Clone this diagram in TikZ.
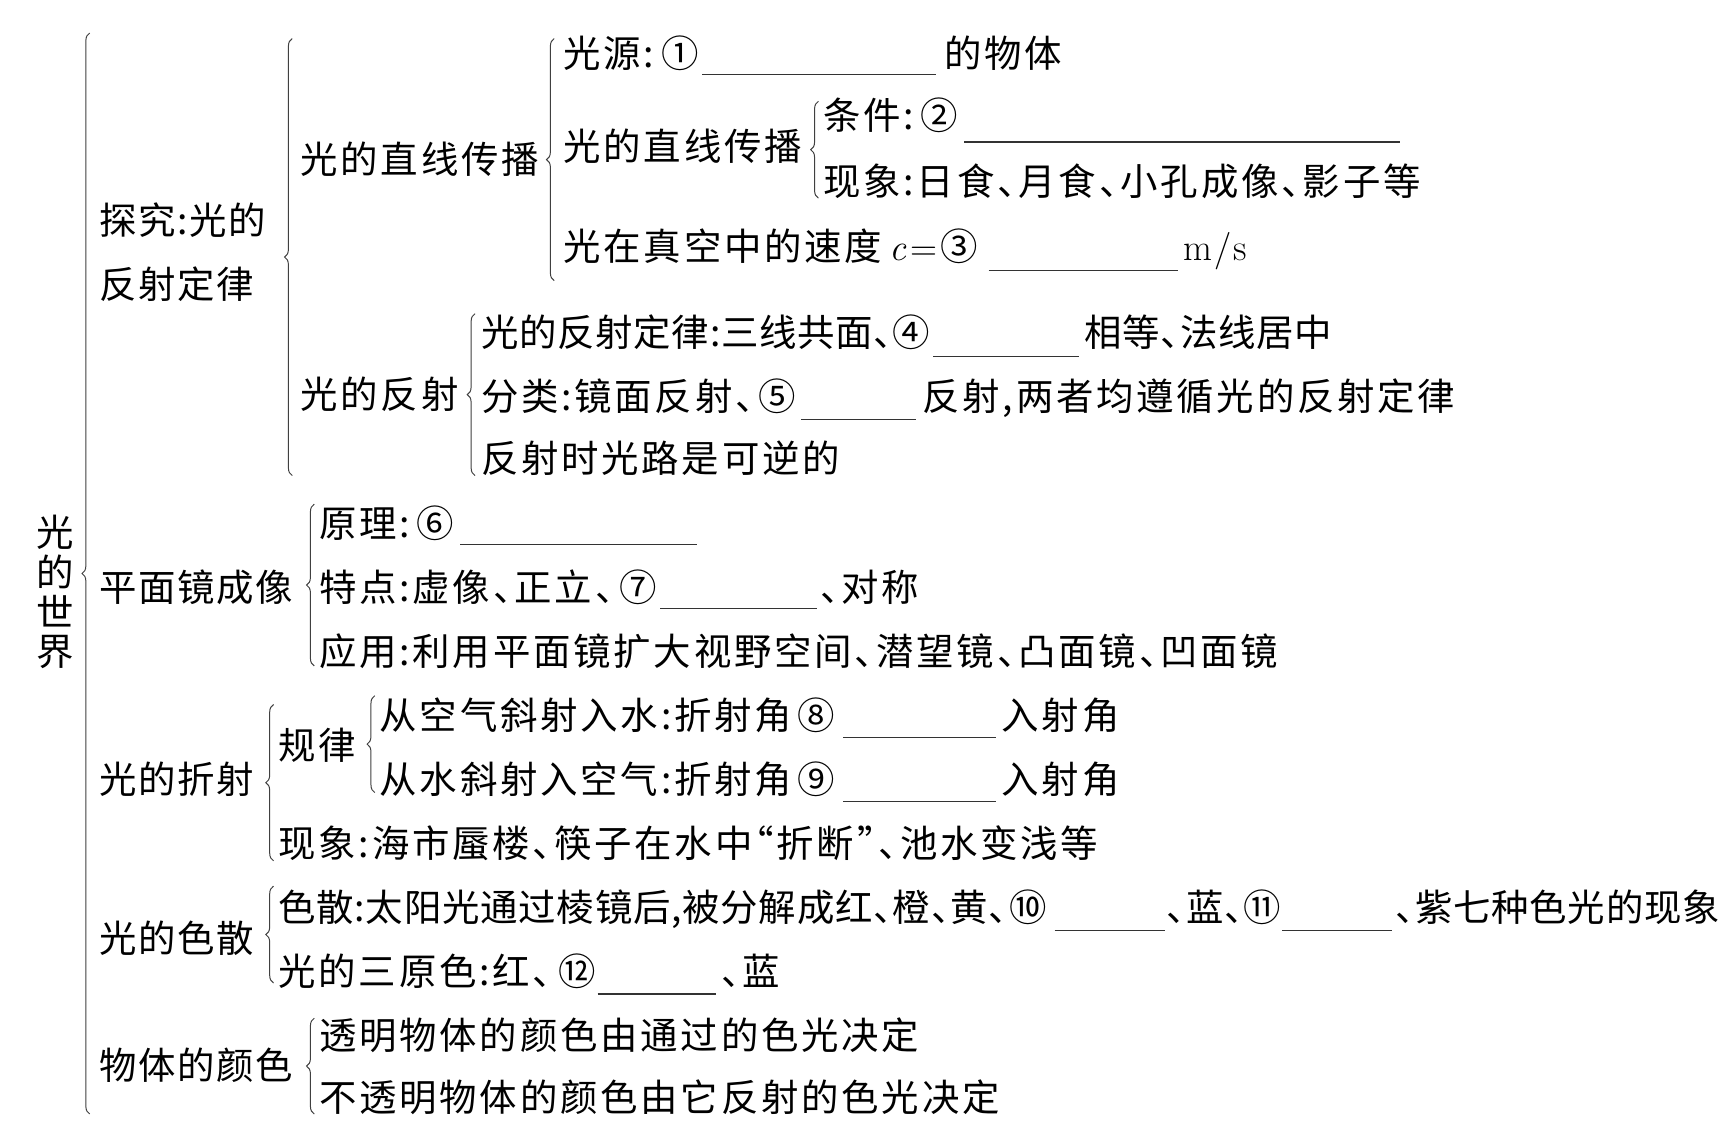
\documentclass[tikz,border=0pt]{standalone}
\usepackage{fontspec}
\newfontfamily\cjkz[CharacterWidth=AlternateHalf]{Noto Sans CJK SC}
\newfontfamily\cjk[CharacterWidth=AlternateHalf, LetterSpace=7.4]{Noto Sans CJK SC}
\newfontfamily\cjkt[CharacterWidth=AlternateHalf, LetterSpace=2]{Noto Sans CJK SC}
\newfontfamily\cjkm[CharacterWidth=AlternateHalf, LetterSpace=4.4]{Noto Sans CJK SC}
\usetikzlibrary{decorations.pathreplacing}
\tikzset{
  t/.style={anchor=west, inner sep=0pt, outer sep=0pt, font=\cjk\fontsize{34}{34}\selectfont, text height=30pt, text depth=4pt, text=black},
  tight/.style={t, font=\cjkt\fontsize{34}{34}\selectfont},
  mid/.style={t, font=\cjkm\fontsize{34}{34}\selectfont},
  num/.style={t, font=\cjkz\fontsize{34}{34}\selectfont},
  br/.style={decorate, decoration={brace, amplitude=7pt}, line width=0.9pt, draw=black!75},
  blank/.style={line width=1.1pt, draw=black!80},
}
\begin{document}
\begin{tikzpicture}[x=1pt,y=-1pt]
\useasboundingbox (0,0) rectangle (1568,1021);
\fill[white] (0,0) rectangle (1568,1021);

% root
\node[inner sep=0pt, align=center, font=\cjkz\fontsize{34}{36}\selectfont] (root) at (50,538) {光\\的\\世\\界};

% level 1
\node[mid] (n1a) at (90,200) {探究:光的};
\node[mid] (n1b) at (90,258) {反射定律};
\node[mid] (n2) at (90,533) {平面镜成像};
\node[mid] (n3) at (90,708) {光的折射};
\node[mid] (n4) at (90,852) {光的色散};
\node[mid] (n5) at (90,968) {物体的颜色};

% level 2 under 探究
\node[t] (s1) at (273,145) {光的直线传播};
\node[t] (s2) at (273,358) {光的反射};

% row A
\node[t] (a1) at (512,48) {光源:};
\node[num] (a2) at ([xshift=6pt]a1.east) {①};
\draw[blank] (638,68) -- (850,68);
\node[t] (a3) at (858,48) {的物体};
% row B
\node[t] (b) at (512,133) {光的直线传播};
\node[t] (b1) at (748,105) {条件:};
\node[num] (b1n) at ([xshift=6pt]b1.east) {②};
\draw[blank] (876,129) -- (1272,129);
\node[t] (b2) at (748,165) {现象:日食、月食、小孔成像、影子等};
% row C
\node[t] (c1) at (512,224) {光在真空中的速度};
\node[t] (c2) at ([xshift=6pt]c1.east) {\rmfamily\itshape c};
\node[t] (c3) at ([xshift=4pt]c2.east) {\rmfamily =};
\node[num] (c4) at ([xshift=3pt]c3.east) {③};
\draw[blank] (898,246) -- (1070,246);
\node[t] (c5) at (1075,224) {\rmfamily m\kern2pt/\kern2pt s};
% row D
\node[tight] (d1) at (437,302) {光的反射定律:三线共面、};
\node[num] (d2) at ([xshift=0pt]d1.east) {④};
\draw[blank] (848,324) -- (980,324);
\node[tight] (d3) at (985,302) {相等、法线居中};
% row E
\node[t] (e1) at (437,360) {分类:镜面反射、};
\node[num] (e2) at ([xshift=4pt]e1.east) {⑤};
\draw[blank] (728,381) -- (832,381);
\node[t] (e3) at (838,360) {反射,两者均遵循光的反射定律};
% row F
\node[t] (f1) at (437,416) {反射时光路是可逆的};
% row G
\node[t] (g1) at (290,475) {原理:};
\node[num] (g2) at ([xshift=6pt]g1.east) {⑥};
\draw[blank] (418,495) -- (633,495);
% row H
\node[t] (h1) at (290,533) {特点:虚像、正立、};
\node[num] (h2) at ([xshift=5pt]h1.east) {⑦};
\draw[blank] (600,553) -- (742,553);
\node[t] (h3) at (745,533) {、对称};
% row I
\node[t] (i1) at (290,592) {应用:利用平面镜扩大视野空间、潜望镜、凸面镜、凹面镜};
% row J
\node[t] (j) at (253,677) {规律};
\node[t] (j1) at (345,650) {从空气斜射入水:折射角};
\node[num] (j1n) at ([xshift=5pt]j1.east) {⑧};
\draw[blank] (766,670) -- (905,670);
\node[t] (j1b) at (910,650) {入射角};
\node[t] (j2) at (345,708) {从水斜射入空气:折射角};
\node[num] (j2n) at ([xshift=5pt]j2.east) {⑨};
\draw[blank] (766,728) -- (905,728);
\node[t] (j2b) at (910,708) {入射角};
% row K
\node[t] (k1) at (253,766) {现象:海市蜃楼、筷子在水中“折断”、池水变浅等};
% row L
\node[tight] (l1) at (253,824) {色散:太阳光通过棱镜后,被分解成红、橙、黄、};
\node[num] (l2) at ([xshift=2pt]l1.east) {⑩};
\draw[blank] (958,845) -- (1058,845);
\node[tight] (l3) at (1060,824) {、蓝、};
\node[num] (l4) at ([xshift=0pt]l3.east) {⑪};
\draw[blank] (1165,845) -- (1265,845);
\node[tight] (l5) at (1268,824) {、紫七种色光的现象};
% row M
\node[t] (m1) at (253,882) {光的三原色:红、};
\node[num] (m2) at ([xshift=6pt]m1.east) {⑫};
\draw[blank] (543,903) -- (650,903);
\node[t] (m3) at (655,882) {、蓝};
% rows N, O
\node[t] (o1) at (290,940) {透明物体的颜色由通过的色光决定};
\node[t] (o2) at (290,997) {不透明物体的颜色由它反射的色光决定};

% braces
\coordinate (B0t) at (81.5,30);   \coordinate (B0b) at (81.5,1012);
\coordinate (B1t) at (265.5,35);  \coordinate (B1b) at (265.5,432);
\coordinate (B2t) at (503.5,35);  \coordinate (B2b) at (503.5,255);
\coordinate (B3t) at (743.5,92);  \coordinate (B3b) at (743.5,180);
\coordinate (B4t) at (431.5,285); \coordinate (B4b) at (431.5,432);
\coordinate (B5t) at (285.5,458); \coordinate (B5b) at (285.5,605);
\coordinate (B6t) at (248.5,640); \coordinate (B6b) at (248.5,782);
\coordinate (B7t) at (340.5,632); \coordinate (B7b) at (340.5,720);
\coordinate (B8t) at (248.5,805); \coordinate (B8b) at (248.5,893);
\coordinate (B9t) at (285.5,925); \coordinate (B9b) at (285.5,1012);
\foreach \i in {0,...,9} { \draw[br] (B\i b) -- (B\i t); }
\end{tikzpicture}
\end{document}
